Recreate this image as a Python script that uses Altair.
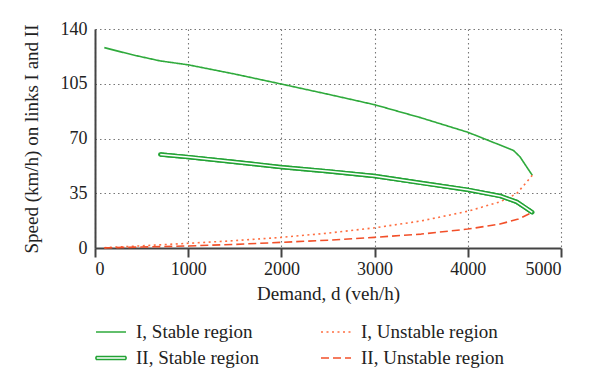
import altair as alt
import pandas as pd

# Series I, stable region (solid thin green)
d_I_stable = [100, 400, 700, 1000, 1500, 2000, 2500, 3000, 3500, 4000, 4490, 4560, 4630, 4692]
v_I_stable = [128.1, 123.5, 119.6, 117.1, 111.2, 104.8, 98.3, 91.6, 83.2, 74.0, 62.4, 58.3, 52.0, 46.5]

# Series II, stable region (double green line)
d_II_stable = [700, 1000, 1500, 2000, 2500, 3000, 3500, 4000, 4345, 4525, 4614, 4692]
v_II_stable = [59.8, 58.1, 55.0, 51.7, 49.0, 46.0, 41.6, 37.2, 33.3, 29.5, 25.9, 22.8]

# Series I, unstable region (dotted orange)
d_I_unstable = [100, 500, 1000, 1500, 2000, 2500, 3000, 3500, 4000, 4345, 4525, 4632, 4692]
v_I_unstable = [0.2, 1.4, 3.0, 4.7, 6.8, 9.5, 12.9, 17.3, 23.5, 29.5, 34.8, 42.2, 46.5]

# Series II, unstable region (dashed red)
d_II_unstable = [100, 500, 1000, 1500, 2000, 2500, 3000, 3500, 4000, 4345, 4543, 4650, 4692]
v_II_unstable = [0.1, 0.6, 1.3, 2.3, 3.6, 5.0, 6.8, 8.9, 12.1, 15.3, 18.5, 21.6, 22.8]

series_names = ["I, Stable region", "I, Unstable region", "II, Stable region", "II, Unstable region"]
series_colors = ["#2faa3c", "#ff6e40", "#23a335", "#f2502a"]
series_dash = [[1, 0], [2, 3.5], [1, 0], [8, 4]]

x_ticks = [0, 1000, 2000, 3000, 4000, 5000]
y_ticks = [0, 35, 70, 105, 140]

rows = []
for name, ds, vs in [
    ("I, Stable region", d_I_stable, v_I_stable),
    ("II, Stable region", d_II_stable, v_II_stable),
    ("I, Unstable region", d_I_unstable, v_I_unstable),
    ("II, Unstable region", d_II_unstable, v_II_unstable),
]:
    for i, (d, v) in enumerate(zip(ds, vs)):
        rows.append({"series": name, "d": d, "v": v, "idx": i})
df = pd.DataFrame(rows)

FONT = "Liberation Serif"

x_enc = alt.X("d:Q", scale=alt.Scale(domain=[0, 5000], nice=False),
              axis=alt.Axis(values=x_ticks, title="Demand, d (veh/h)", format="d",
                            tickSize=9, tickWidth=2, labelPadding=3, titlePadding=6))
y_enc = alt.Y("v:Q", scale=alt.Scale(domain=[0, 140], nice=False),
              axis=alt.Axis(values=y_ticks, title="Speed (km/h) on links I and II",
                            ticks=False, labelPadding=8, titlePadding=19))

is_II = "datum.value === 'II, Stable region'"

legend = alt.Legend(
    title=None, orient="none", legendX=0, legendY=287, columns=2,
    direction="horizontal",
    symbolType=alt.ExprRef(expr=f"{is_II} ? 'M-1,-0.1H1V0.1H-1Z' : 'stroke'"),
    symbolFillColor=alt.ExprRef(expr=f"{is_II} ? '#ffffff' : 'transparent'"),
    symbolSize=900, symbolStrokeWidth=1.6,
    labelFont=FONT, labelFontSize=19, labelColor="#222", labelOffset=9,
    columnPadding=58, rowPadding=0, padding=0,
)

base = alt.Chart(df)

lines = base.mark_line(strokeJoin="round", strokeCap="butt").encode(
    x=x_enc,
    y=y_enc,
    order="idx:Q",
    color=alt.Color("series:N", scale=alt.Scale(domain=series_names, range=series_colors), legend=legend),
    strokeDash=alt.StrokeDash("series:N", scale=alt.Scale(domain=series_names, range=series_dash), legend=legend),
    strokeWidth=alt.condition("datum.series === 'II, Stable region'", alt.value(4.4), alt.value(1.6)),
)

II_only = base.transform_filter("datum.series === 'II, Stable region'")

outer = II_only.mark_line(
    color="#23a335", strokeWidth=4.4, strokeCap="round", strokeJoin="round"
).encode(x="d:Q", y="v:Q", order="idx:Q")

inner = II_only.mark_line(
    color="white", strokeWidth=1.5, strokeCap="butt", strokeJoin="round"
).encode(x="d:Q", y="v:Q", order="idx:Q")

chart = alt.layer(lines, outer, inner).properties(
    width=466, height=219,
    autosize=alt.AutoSizeParams(type="none"),
    padding={"left": 87, "top": 21, "right": 31, "bottom": 131},
).configure(font=FONT).configure_view(stroke=None).configure_axis(
    labelFont=FONT, titleFont=FONT, labelFontSize=18, titleFontSize=19,
    labelColor="#222", titleColor="#222", titleFontWeight="normal",
    domainColor="#444", domainWidth=2, tickColor="#444",
    gridColor="#777", gridDash=[1.5, 3], gridWidth=1.1,
)

chart.save("out.html", embed_options={"renderer": "svg", "actions": False})
